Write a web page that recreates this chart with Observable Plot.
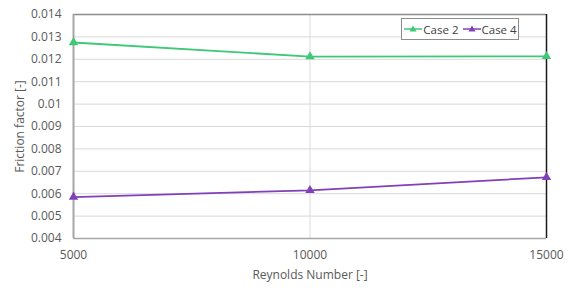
<!DOCTYPE html>
<html><head><meta charset="utf-8">
<script src="https://cdn.jsdelivr.net/npm/d3@7"></script>
<script src="https://cdn.jsdelivr.net/npm/@observablehq/plot@0.6"></script>
<style>
body{margin:0;background:#fff;font-family:"Open Sans",sans-serif;}
#wrap{position:relative;width:571px;height:288px;}
#legend{position:absolute;left:401px;top:18px;width:118px;height:22px;border:1px solid #8c8c8c;background:#fff;font-size:11.5px;color:#404040;display:flex;align-items:center;justify-content:center;gap:3px;box-sizing:border-box;}
#legend span{display:inline-flex;align-items:center;}
</style></head>
<body><div id="wrap"></div>
<script>
const reynolds = [5000, 10000, 15000];
const case2 = [0.01275, 0.01212, 0.01213];
const case4 = [0.00585, 0.00615, 0.00673];
const seriesNames = ["Case 2", "Case 4"];
const seriesColors = ["#3ec878", "#8040b8"];
const yTicks = [0.004,0.005,0.006,0.007,0.008,0.009,0.01,0.011,0.012,0.013,0.014];
const xTicks = [5000, 10000, 15000];

const data = [];
reynolds.forEach((r,i)=>{ data.push({re:r, f:case2[i], s:seriesNames[0]}); data.push({re:r, f:case4[i], s:seriesNames[1]}); });

const chart = Plot.plot({
  width: 571, height: 288,
  marginLeft: 73, marginRight: 25, marginTop: 14, marginBottom: 50,
  style: {fontFamily: '"Open Sans", sans-serif', fontSize: "12px", color: "#595959", background: "#fff"},
  x: {domain: [5000, 15000]},
  y: {domain: [0.004, 0.014]},
  color: {domain: seriesNames, range: seriesColors},
  marks: [
    Plot.gridY(yTicks, {stroke: "#d9d9d9", strokeOpacity: 1}),
    Plot.gridX([10000], {stroke: "#d9d9d9", strokeOpacity: 1}),
    Plot.ruleY([0.014], {stroke: "#8c8c8c", strokeWidth: 1.5}),
    Plot.ruleY([0.004], {stroke: "#a6a6a6", strokeWidth: 1.5}),
    Plot.ruleX([5000], {stroke: "#a6a6a6", strokeWidth: 2}),
    Plot.ruleX([15000], {stroke: "#1a1a1a", strokeWidth: 1.5}),
    Plot.line(data, {x: "re", y: "f", z: "s", stroke: "s", strokeWidth: 1.8}),
    Plot.dot(data, {x: "re", y: "f", fill: "s", symbol: "triangle", r: 3.5, stroke: null}),
    Plot.axisX({ticks: xTicks, tickFormat: d => String(d), tickSize: 0, tickPadding: 12, label: "Reynolds Number [-]", labelAnchor: "center", labelArrow: "none", labelOffset: 40, fontSize: 12}),
    Plot.axisY({ticks: yTicks, tickFormat: d => String(+d.toFixed(3)), tickSize: 0, tickPadding: 12, label: "Friction factor [-]", labelAnchor: "center", labelArrow: "none", labelOffset: 58, fontSize: 12})
  ]
});
const wrap = document.getElementById("wrap");
wrap.appendChild(chart);

const legend = document.createElement("div");
legend.id = "legend";
seriesNames.forEach((n,i)=>{
  const sp = document.createElement("span");
  sp.innerHTML = `<svg width="20" height="10"><line x1="1" y1="5" x2="19" y2="5" stroke="${seriesColors[i]}" stroke-width="1.5"/><path d="M10,1.5 L13.5,7.5 L6.5,7.5 Z" fill="${seriesColors[i]}"/></svg>${n}`;
  legend.appendChild(sp);
});
wrap.appendChild(legend);
</script></body></html>
